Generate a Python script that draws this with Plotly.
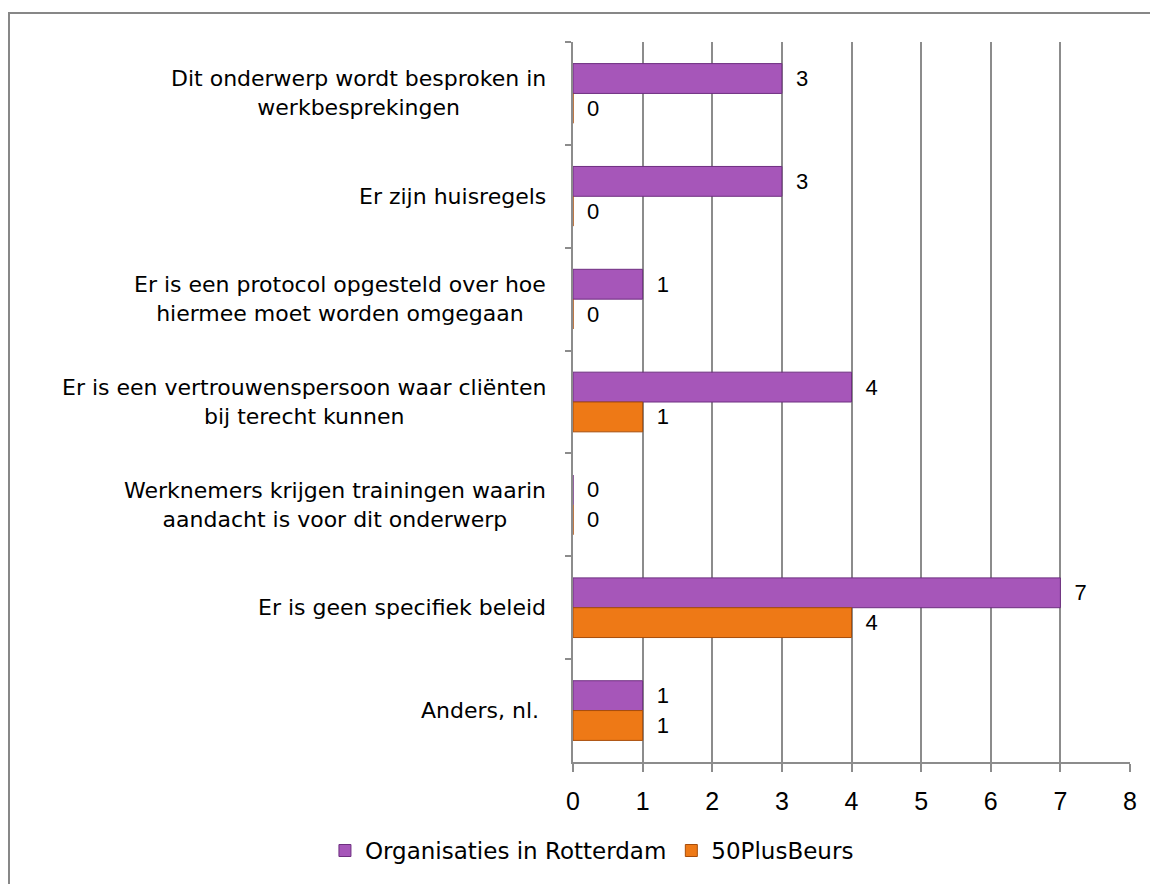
import plotly.graph_objects as go

# categories top -> bottom
categories = [
    "Dit onderwerp wordt besproken in<br>werkbesprekingen",
    "Er zijn huisregels",
    "Er is een protocol opgesteld over hoe<br>hiermee moet worden omgegaan",
    "Er is een vertrouwenspersoon waar cliënten<br>bij terecht kunnen",
    "Werknemers krijgen trainingen waarin<br>aandacht is voor dit onderwerp",
    "Er is geen specifiek beleid",
    "Anders, nl. ",
]
rotterdam = [3, 3, 1, 4, 0, 7, 1]
plusbeurs = [0, 0, 0, 1, 0, 4, 1]
series_names = ["Organisaties in Rotterdam", "50PlusBeurs"]
x_ticks = [0, 1, 2, 3, 4, 5, 6, 7, 8]

FONT = "DejaVu Sans"
NUM_FONT = "Liberation Sans"
GRID = "#8c8c8c"

fig = go.Figure()
fig.add_trace(go.Bar(
    y=categories, x=rotterdam, orientation="h", name=series_names[0],
    marker=dict(color="#a656b9", line=dict(color="#6e2f80", width=1)),
    texttemplate="\u2002%{x}", textposition="outside",
    textfont=dict(size=22, color="black", family=NUM_FONT),
    constraintext="none", cliponaxis=False,
))
fig.add_trace(go.Bar(
    y=categories, x=plusbeurs, orientation="h", name=series_names[1],
    marker=dict(color="#ee7916", line=dict(color="#a84d0a", width=1)),
    texttemplate="\u2002%{x}", textposition="outside",
    textfont=dict(size=22, color="black", family=NUM_FONT),
    constraintext="none", cliponaxis=False,
))

# category labels as centred multi-line annotations
for cat in categories:
    fig.add_annotation(
        x=-0.045, xref="paper", y=cat, yref="y", text=cat,
        xanchor="right", yanchor="middle", align="center", showarrow=False,
        font=dict(size=22, color="black", family=FONT),
    )

# outer frame (right and bottom edges fall outside the window)
fig.add_shape(type="rect", xref="paper", yref="paper",
              x0=-1.0126, x1=1.08, y0=-0.2, y1=1.0402,
              line=dict(color="#878787", width=2), fillcolor="rgba(0,0,0,0)")

fig.update_layout(
    width=1150, height=876,
    margin=dict(l=565, r=28, t=34, b=120),
    paper_bgcolor="white", plot_bgcolor="white",
    barmode="group", bargap=0.42, bargroupgap=0,
    font=dict(family=FONT, size=20, color="black"),
    showlegend=True,
    legend=dict(orientation="h", x=0.034, xanchor="center", y=-0.123, yanchor="middle",
                font=dict(size=23, family=FONT), itemwidth=30, traceorder="normal"),
    xaxis=dict(range=[0, 8], tickvals=x_ticks, showgrid=True, gridcolor=GRID, gridwidth=2,
               zeroline=False, showline=True, linecolor=GRID, linewidth=2,
               ticks="outside", ticklen=8, tickcolor=GRID, tickwidth=2,
               ticklabelstandoff=8, tickfont=dict(size=25, family=NUM_FONT)),
    yaxis=dict(autorange="reversed", showticklabels=False, showgrid=False,
               showline=True, linecolor=GRID, linewidth=2,
               ticks="outside", tickson="boundaries", ticklen=6, tickcolor=GRID, tickwidth=2),
)

fig.write_html("out.html")
